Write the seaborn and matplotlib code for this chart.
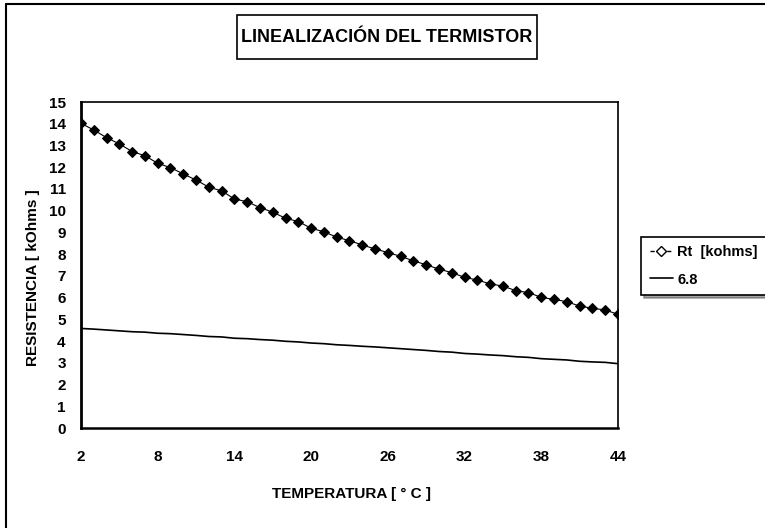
import pandas as pd
import matplotlib
matplotlib.use("Agg")
import matplotlib.pyplot as plt
from matplotlib.lines import Line2D
from matplotlib.patches import Rectangle
import seaborn as sns

# Data
temperatura = list(range(2, 45))
rt_kohms = [14.02, 13.71, 13.36, 13.07, 12.72, 12.53, 12.18, 11.98, 11.69, 11.41,
            11.08, 10.91, 10.54, 10.41, 10.14, 9.93, 9.65, 9.50, 9.19, 9.03,
            8.78, 8.62, 8.42, 8.24, 8.07, 7.90, 7.69, 7.51, 7.31, 7.15,
            6.93, 6.81, 6.63, 6.53, 6.32, 6.23, 6.01, 5.92, 5.81, 5.61,
            5.51, 5.43, 5.23]
r_68 = [4.58, 4.55, 4.51, 4.47, 4.43, 4.41, 4.36, 4.34, 4.30, 4.26,
        4.21, 4.19, 4.13, 4.11, 4.07, 4.04, 3.99, 3.96, 3.91, 3.88,
        3.83, 3.80, 3.76, 3.73, 3.69, 3.65, 3.61, 3.57, 3.52, 3.49,
        3.43, 3.40, 3.36, 3.33, 3.28, 3.25, 3.19, 3.16, 3.13, 3.07,
        3.04, 3.02, 2.96]
x_ticks = [2, 8, 14, 20, 26, 32, 38, 44]
y_ticks = list(range(0, 16))

df = pd.DataFrame({"temp": temperatura, "rt": rt_kohms, "r68": r_68})

sns.set_style("white")
plt.rcParams["font.family"] = ["Liberation Sans", "DejaVu Sans"]
plt.rcParams["font.weight"] = "bold"
plt.rcParams["text.color"] = "black"
plt.rcParams["axes.labelcolor"] = "black"

fig = plt.figure(figsize=(7.65, 5.28), dpi=100)
ax = fig.add_axes([81 / 765, 1 - 428 / 528, (618 - 81) / 765, (428 - 102) / 528])

sns.lineplot(data=df, x="temp", y="rt", ax=ax, color="black", linewidth=0.8,
             marker="D", markersize=5.5, markerfacecolor="black",
             markeredgecolor="black", label="Rt  [kohms]")
sns.lineplot(data=df, x="temp", y="r68", ax=ax, color="black", linewidth=1.2,
             label="6.8")

ax.set_xlim(2, 44)
ax.set_ylim(0, 15)
ax.set_xticks(x_ticks)
ax.set_yticks(y_ticks)
ax.tick_params(direction="in", length=4, width=1, colors="black", labelsize=11, pad=11)
ax.tick_params(axis="x", pad=16)
for lab in ax.get_xticklabels() + ax.get_yticklabels():
    lab.set_fontweight("bold")
for s in ax.spines.values():
    s.set_color("black")
    s.set_linewidth(1.2)
ax.spines["left"].set_linewidth(2)
ax.spines["bottom"].set_linewidth(1.8)

ax.set_xlabel("TEMPERATURA [ ° C ]", fontsize=11, fontweight="bold")
ax.set_ylabel("RESISTENCIA [ kOhms ]", fontsize=11, fontweight="bold")
ax.xaxis.set_label_coords(0.503, -0.181)
ax.yaxis.set_label_coords(-0.076, 0.46)

# legend with hollow diamond and dashed line like the original
handles = [
    Line2D([0], [0], color="black", linestyle=(0, (3, 3)), linewidth=1,
           marker="D", markersize=5, markerfacecolor="white", markeredgecolor="black"),
    Line2D([0], [0], color="black", linewidth=1.2),
]
leg = ax.legend(handles, ["Rt  [kohms]", "6.8"], loc="center left",
                bbox_to_anchor=(641 / 765, 1 - 266 / 528), bbox_transform=fig.transFigure,
                frameon=True, fancybox=False, shadow=True, fontsize=10.5,
                handlelength=1.6, handletextpad=0.3, borderpad=0.6, labelspacing=0.9,
                borderaxespad=0)
leg.get_frame().set_edgecolor("black")
leg.get_frame().set_linewidth(1.2)
for t in leg.get_texts():
    t.set_fontweight("bold")

# title inside its own box
fig.add_artist(Rectangle((237 / 765, 1 - 59 / 528), (537 - 237) / 765, 44 / 528,
                         transform=fig.transFigure, facecolor="white",
                         edgecolor="black", linewidth=1.2))
fig.text(387 / 765, 1 - 37 / 528, "LINEALIZACIÓN DEL TERMISTOR", ha="center", va="center",
         fontsize=13, fontweight="bold")

# outer chart border (only left and top survive in the scan)
fig.add_artist(Line2D([6 / 765, 6 / 765], [0, 1 - 4 / 528], color="black", linewidth=1.5,
                      transform=fig.transFigure))
fig.add_artist(Line2D([6 / 765, 1], [1 - 4 / 528, 1 - 4 / 528], color="black", linewidth=1.5,
                      transform=fig.transFigure))

fig.savefig("out.png", dpi=100)
